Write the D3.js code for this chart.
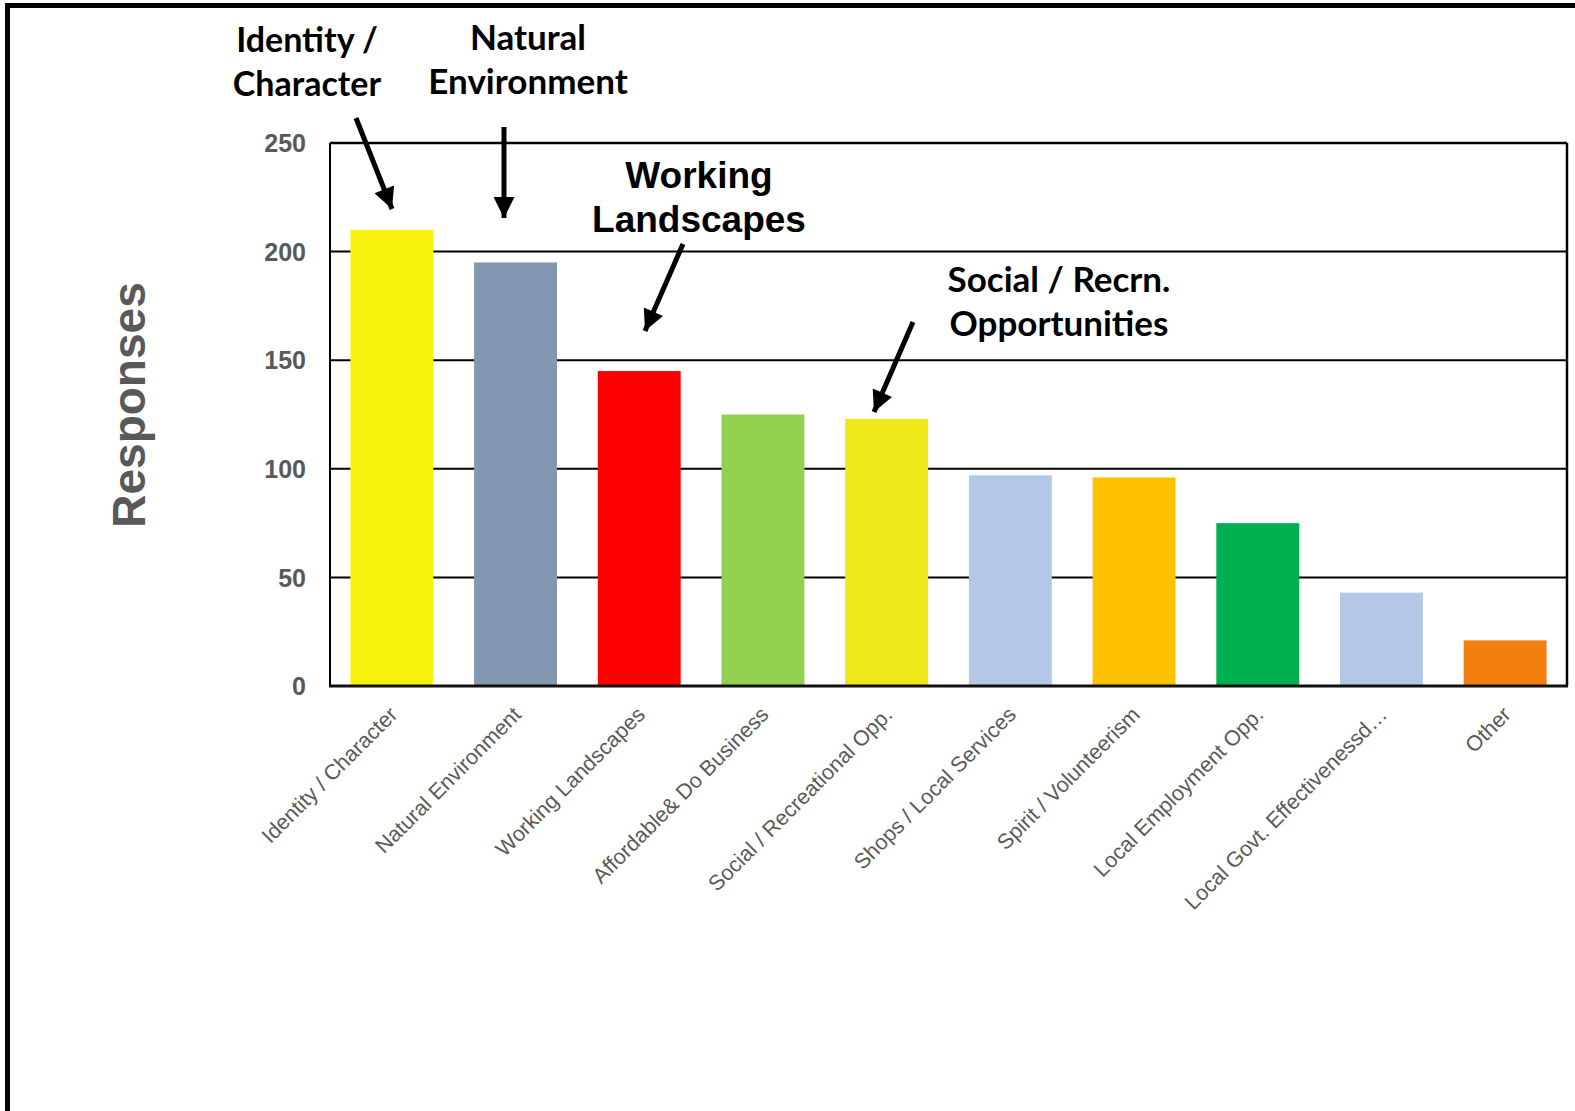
<!DOCTYPE html>
<html>
<head>
<meta charset="utf-8">
<script src="https://cdn.jsdelivr.net/npm/d3@7"></script>
<style>
html,body{margin:0;padding:0;background:#fff;}
svg{display:block;}
</style>
</head>
<body>
<svg id="chart" width="1575" height="1111"></svg>
<script>
const categories = ["Identity / Character","Natural Environment","Working Landscapes","Affordable& Do Business","Social / Recreational Opp.","Shops / Local Services","Spirit / Volunteerism","Local Employment Opp.","Local Govt. Effectivenessd\u2026","Other"];
const responses = [210,195,145,125,123,97,96,75,43,21];
const barColors = ["#F9F20E","#8497B0","#FF0000","#92D050","#EEE81A","#B4C7E7","#FFC000","#00B050","#B4C7E7","#F28010"];
const yTicks = [0,50,100,150,200,250];
const annotations = [
  {lines:["Identity /","Character"], font:"Lato", size:34, cx:307, y:52},
  {lines:["Natural","Environment"], font:"Lato", size:35, cx:528, y:50},
  {lines:["Working","Landscapes"], font:"Liberation Sans", size:37, cx:699, y:188},
  {lines:["Social / Recrn.","Opportunities"], font:"Lato", size:35, cx:1059, y:292}
];
const arrows = [
  {x1:356,y1:118,x2:392,y2:209},
  {x1:504,y1:127,x2:504,y2:218},
  {x1:683,y1:244,x2:645,y2:331},
  {x1:913,y1:322,x2:874,y2:412}
];

const svg = d3.select("#chart");
const m = {left:330, top:143, right:1567, bottom:686};

// outer frame
svg.append("rect").attr("x",7.5).attr("y",5.5).attr("width",1600).attr("height",1200)
  .attr("fill","none").attr("stroke","#000").attr("stroke-width",5);

const x = d3.scaleBand().domain(categories).range([m.left,m.right]).paddingInner(0.33).paddingOuter(0.165);
const y = d3.scaleLinear().domain([0,250]).range([m.bottom,m.top]);

// gridlines
svg.append("g").selectAll("line").data(yTicks.filter(d=>d>0)).join("line")
  .attr("x1",m.left).attr("x2",m.right).attr("y1",d=>y(d)).attr("y2",d=>y(d))
  .attr("stroke","#000").attr("stroke-width",2);

// bars
svg.append("g").selectAll("rect").data(categories).join("rect")
  .attr("x",d=>x(d)).attr("width",x.bandwidth())
  .attr("y",(d,i)=>y(responses[i])).attr("height",(d,i)=>y(0)-y(responses[i]))
  .attr("fill",(d,i)=>barColors[i]);

// plot frame
svg.append("line").attr("x1",m.left).attr("x2",m.left).attr("y1",m.top).attr("y2",m.bottom).attr("stroke","#000").attr("stroke-width",2);
svg.append("line").attr("x1",m.right).attr("x2",m.right).attr("y1",m.top).attr("y2",m.bottom).attr("stroke","#000").attr("stroke-width",2.5);
svg.append("line").attr("x1",m.left).attr("x2",m.right).attr("y1",m.top).attr("y2",m.top).attr("stroke","#000").attr("stroke-width",2.5);
svg.append("line").attr("x1",m.left-1).attr("x2",m.right+1).attr("y1",m.bottom).attr("y2",m.bottom).attr("stroke","#111").attr("stroke-width",3);

// y axis labels
const yAxis = d3.axisLeft(y).tickValues(yTicks).tickSize(0).tickPadding(24);
const ga = svg.append("g").attr("transform",`translate(${m.left},0)`).call(yAxis);
ga.select(".domain").remove();
ga.selectAll("text").attr("font-family","Liberation Sans, Arial, sans-serif").attr("font-weight","bold")
  .attr("font-size",25).attr("fill","#595959").attr("dy","0.35em");

// x labels
const xAxis = d3.axisBottom(x).tickSize(0).tickPadding(0);
const gx = svg.append("g").attr("transform",`translate(0,${m.bottom})`).call(xAxis);
gx.select(".domain").remove();
gx.selectAll("text")
  .attr("font-family","Liberation Sans, Arial, sans-serif").attr("font-size",21.5).attr("fill","#595959")
  .attr("text-anchor","end").attr("y",0).attr("dy",0)
  .attr("transform",`translate(7,30) rotate(-45)`);

// y title
svg.append("text").attr("transform","translate(145,405) rotate(-90)")
  .attr("text-anchor","middle").attr("font-family","Liberation Sans, Arial, sans-serif")
  .attr("font-weight","bold").attr("font-size",46).attr("fill","#595959").text("Responses");

// annotations
annotations.forEach(a=>{
  const t = svg.append("text").attr("text-anchor","middle").attr("font-family",a.font+", sans-serif")
    .attr("font-weight","bold").attr("font-size",a.size).attr("fill","#000");
  a.lines.forEach((l,i)=>t.append("tspan").attr("x",a.cx).attr("y",a.y+i*44).text(l));
});

// arrows
svg.append("defs").append("marker").attr("id","ah").attr("viewBox","0 0 10 10")
  .attr("refX",10).attr("refY",5).attr("markerWidth",4.6).attr("markerHeight",4.2)
  .attr("markerUnits","strokeWidth").attr("orient","auto")
  .append("path").attr("d","M0,0 L10,5 L0,10 Z").attr("fill","#000");
svg.append("g").selectAll("line").data(arrows).join("line")
  .attr("x1",d=>d.x1).attr("y1",d=>d.y1).attr("x2",d=>d.x2).attr("y2",d=>d.y2)
  .attr("stroke","#000").attr("stroke-width",5).attr("marker-end","url(#ah)");
</script>
</body>
</html>
